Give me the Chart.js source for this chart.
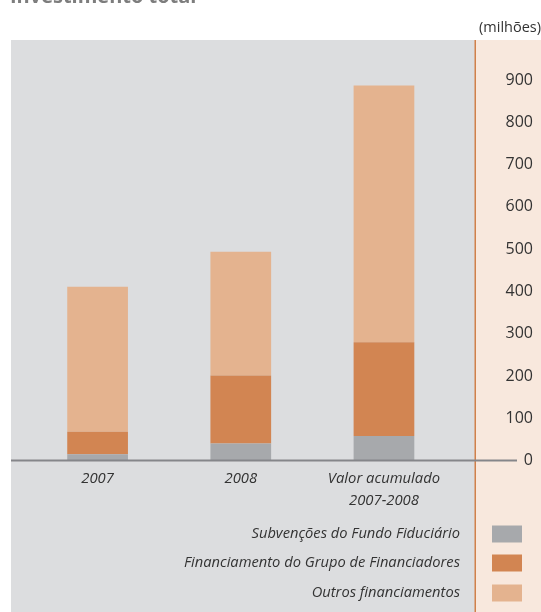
<!DOCTYPE html>
<html>
<head>
<meta charset="utf-8">
<script src="https://cdn.jsdelivr.net/npm/chart.js@4"></script>
<style>
  html, body { margin: 0; padding: 0; background: #fff; }
  #wrap { width: 541px; height: 612px; position: relative; }
</style>
</head>
<body>
<div id="wrap"><canvas id="myChart"></canvas></div>
<script>
const categories = ['2007', '2008', ['Valor acumulado', '2007-2008']];
const subvencoes = [15, 40, 58];
const financiadores = [53, 161, 222];
const outros = [343, 293, 607];
const yTicks = [0, 100, 200, 300, 400, 500, 600, 700, 800, 900];

const seriesNames = [
  'Subvenções do Fundo Fiduciário',
  'Financiamento do Grupo de Financiadores',
  'Outros financiamentos'
];
const seriesColors = ['#a7a9ac', '#d28552', '#e4b38f'];

Chart.defaults.font.family = "'Open Sans', sans-serif";
Chart.defaults.color = '#333';

// panels, zero line, titles and the right-side legend
const decor = {
  id: 'decor',
  beforeDraw(chart) {
    const ctx = chart.ctx;
    ctx.save();
    ctx.fillStyle = '#dcdddf';
    ctx.fillRect(11, 40, 464, 572);
    ctx.fillStyle = '#f8e8dd';
    ctx.fillRect(476, 40, 65, 572);
    ctx.fillStyle = '#d0804a';
    ctx.fillRect(474.5, 40, 1.5, 572);
    ctx.restore();
  },
  afterDatasetsDraw(chart) {
    const ctx = chart.ctx;
    const y0 = chart.scales.y.getPixelForValue(0);
    ctx.save();
    ctx.strokeStyle = '#85868a';
    ctx.lineWidth = 2;
    ctx.beginPath();
    ctx.moveTo(11, y0);
    ctx.lineTo(517, y0);
    ctx.stroke();
    ctx.restore();
  },
  afterDraw(chart) {
    const ctx = chart.ctx;
    ctx.save();
    ctx.fillStyle = '#7d7d7d';
    ctx.font = "bold 20px 'Open Sans', sans-serif";
    ctx.textBaseline = 'alphabetic';
    ctx.textAlign = 'left';
    ctx.fillText('Investimento total', 10, 2.5);

    ctx.fillStyle = '#333';
    ctx.font = "14.5px 'Open Sans', sans-serif";
    ctx.textAlign = 'right';
    ctx.textBaseline = 'middle';
    ctx.fillText('(milhões)', 541, 28);

    const rows = [534, 563, 593];
    ctx.font = "italic 14.7px 'Open Sans', sans-serif";
    chart.data.datasets.forEach((ds, i) => {
      ctx.fillStyle = '#333';
      ctx.fillText(ds.label, 460, rows[i]);
      ctx.fillStyle = ds.backgroundColor;
      ctx.fillRect(492, rows[i] - 8.5, 30, 17);
    });
    ctx.restore();
  }
};

const data = {
  labels: categories,
  datasets: [
    { label: seriesNames[0], data: subvencoes, backgroundColor: seriesColors[0] },
    { label: seriesNames[1], data: financiadores, backgroundColor: seriesColors[1] },
    { label: seriesNames[2], data: outros, backgroundColor: seriesColors[2] }
  ]
};

const config = {
  type: 'bar',
  data: data,
  plugins: [decor],
  options: {
    responsive: true,
    maintainAspectRatio: false,
    animation: false,
    layout: { padding: { top: 80, left: 26, right: 8, bottom: 92.5 } },
    datasets: {
      bar: { barPercentage: 0.424, categoryPercentage: 1, borderWidth: 0 }
    },
    plugins: {
      legend: { display: false },
      tooltip: { enabled: false }
    },
    scales: {
      x: {
        stacked: true,
        grid: { display: false, drawTicks: false },
        border: { display: false },
        ticks: {
          padding: 7,
          maxRotation: 0,
          font: { size: 14.8, style: 'italic', lineHeight: 1.52 },
          color: '#333'
        }
      },
      y: {
        stacked: true,
        position: 'right',
        min: 0,
        max: 900,
        afterBuildTicks(scale) {
          scale.ticks = yTicks.map(v => ({ value: v }));
        },
        grid: { display: false, drawTicks: false },
        border: { display: false },
        ticks: {
          padding: 25,
          crossAlign: 'far',
          font: { size: 16 },
          color: '#333'
        }
      }
    }
  }
};

const myChart = new Chart(document.getElementById('myChart'), config);
</script>
</body>
</html>
